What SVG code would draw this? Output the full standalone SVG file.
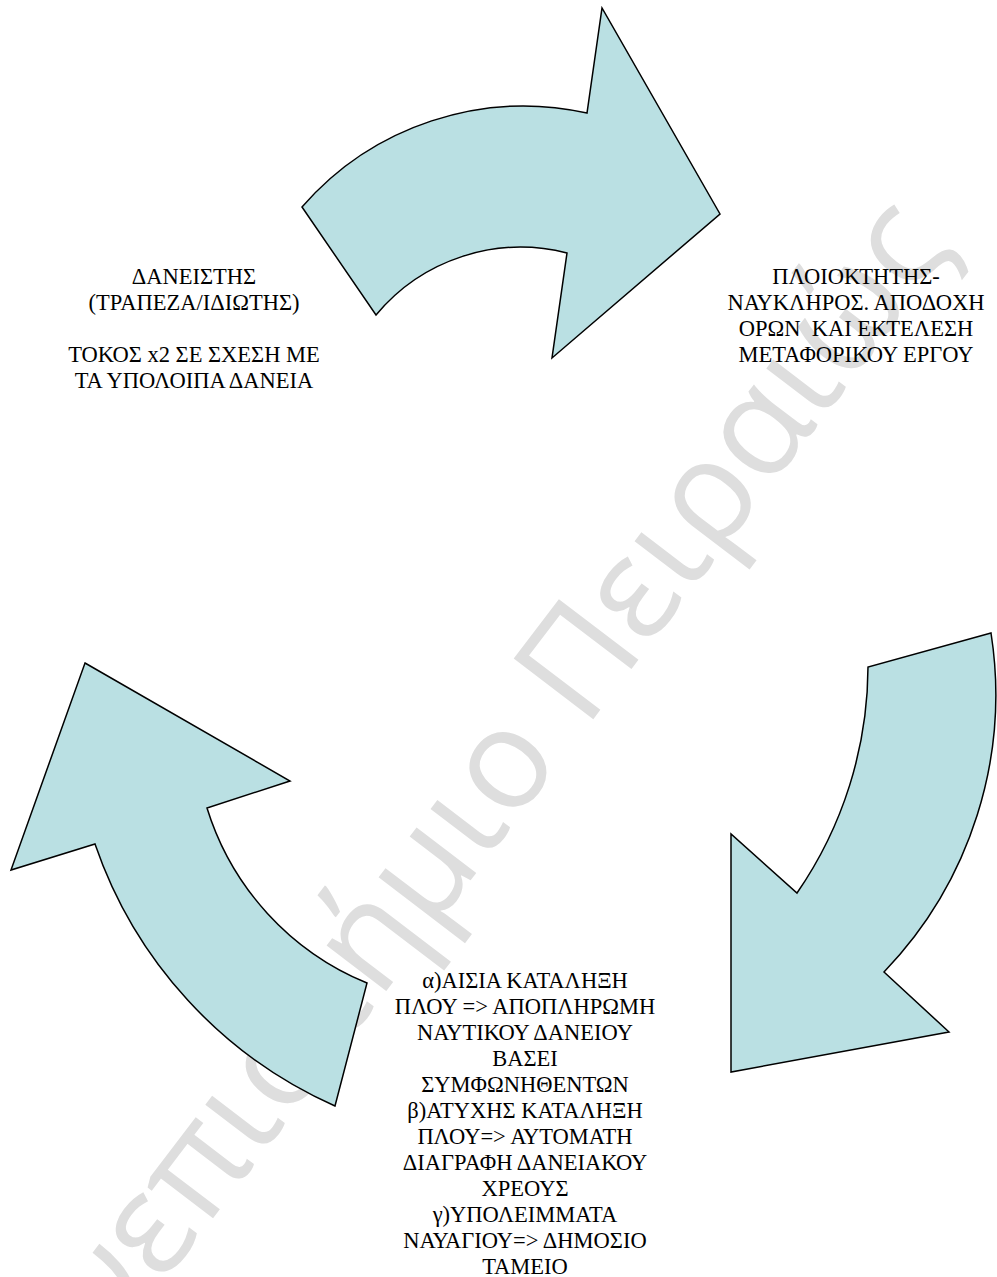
<svg xmlns="http://www.w3.org/2000/svg" width="997" height="1277" viewBox="0 0 997 1277">
<style>
.arrow{fill:#bae0e3;stroke:#000;stroke-width:1.5;stroke-linejoin:miter}
.lbl{font-family:"Liberation Serif","Times New Roman",serif;font-size:22.5px;fill:#000;text-anchor:middle}
.wm{font-family:"Open Sans","Noto Sans",sans-serif;font-size:140px;fill:#dedede}
</style>
<rect width="997" height="1277" fill="#fff"/>
<g id="watermark" transform="translate(585,730) rotate(-52.7)">
<text class="wm" x="0" y="0">Πειραιώς</text>
<text class="wm" x="-36" y="0" text-anchor="end">Πανεπιστήμιο</text>
</g>
<g id="connectors">
<path id="arrow-top" class="arrow" d="M302,207 A294,294 0 0 1 587,113 L602,8 L720,214 L552,358 L567,253 A188,188 0 0 0 376,315 Z"/>
<path id="arrow-right" class="arrow" d="M991,633 L868,667 A400,400 0 0 1 797,893 L731,834 L731,1072 L949,1032 L884,972 A400,400 0 0 0 991,633 Z"/>
<path id="arrow-left" class="arrow" d="M85,663 L290,781 L207,808 A278,278 0 0 0 367,983 L335,1106 A444,444 0 0 1 95,844 L11,870 Z"/>
</g>
<g id="node-lender">
<text class="lbl" x="194" y="284">ΔΑΝΕΙΣΤΗΣ</text>
<text class="lbl" x="194" y="310">(ΤΡΑΠΕΖΑ/ΙΔΙΩΤΗΣ)</text>
<text class="lbl" x="194" y="362">ΤΟΚΟΣ x2 ΣΕ ΣΧΕΣΗ ΜΕ</text>
<text class="lbl" x="194" y="388">ΤΑ ΥΠΟΛΟΙΠΑ ΔΑΝΕΙΑ</text>
</g>
<g id="node-shipowner">
<text class="lbl" x="856" y="284">ΠΛΟΙΟΚΤΗΤΗΣ-</text>
<text class="lbl" x="856" y="310">ΝΑΥΚΛΗΡΟΣ. ΑΠΟΔΟΧΗ</text>
<text class="lbl" x="856" y="336" xml:space="preserve">ΟΡΩΝ  ΚΑΙ ΕΚΤΕΛΕΣΗ</text>
<text class="lbl" x="856" y="362">ΜΕΤΑΦΟΡΙΚΟΥ ΕΡΓΟΥ</text>
</g>
<g id="node-outcome">
<text class="lbl" x="525" y="988">α)ΑΙΣΙΑ ΚΑΤΑΛΗΞΗ</text>
<text class="lbl" x="525" y="1014">ΠΛΟΥ =&gt; ΑΠΟΠΛΗΡΩΜΗ</text>
<text class="lbl" x="525" y="1040">ΝΑΥΤΙΚΟΥ ΔΑΝΕΙΟΥ</text>
<text class="lbl" x="525" y="1066">ΒΑΣΕΙ</text>
<text class="lbl" x="525" y="1092">ΣΥΜΦΩΝΗΘΕΝΤΩΝ</text>
<text class="lbl" x="525" y="1118">β)ΑΤΥΧΗΣ ΚΑΤΑΛΗΞΗ</text>
<text class="lbl" x="525" y="1144">ΠΛΟΥ=&gt; ΑΥΤΟΜΑΤΗ</text>
<text class="lbl" x="525" y="1170">ΔΙΑΓΡΑΦΗ ΔΑΝΕΙΑΚΟΥ</text>
<text class="lbl" x="525" y="1196">ΧΡΕΟΥΣ</text>
<text class="lbl" x="525" y="1222">γ)ΥΠΟΛΕΙΜΜΑΤΑ</text>
<text class="lbl" x="525" y="1248">ΝΑΥΑΓΙΟΥ=&gt; ΔΗΜΟΣΙΟ</text>
<text class="lbl" x="525" y="1274">ΤΑΜΕΙΟ</text>
</g>
</svg>
